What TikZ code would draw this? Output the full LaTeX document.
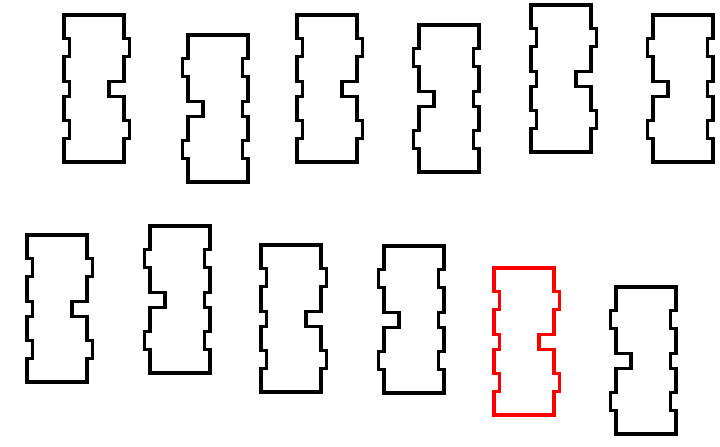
\documentclass[tikz,border=0pt]{standalone}
\usepackage{tikz}
\definecolor{picked}{RGB}{255,0,0}

\begin{document}
\begin{tikzpicture}[x=0.025cm,y=-0.025cm,
    outline/.style={draw,line width=2.2pt,line join=miter},
    brick/.pic={\draw[outline] (0,0) -- (60,0) -- (60,23.5) -- (65.5,23.5) -- (65.5,41.5) -- (60,41.5)
      -- (60,66.5) -- (45,66.5) -- (45,81.5) -- (60,81.5) -- (60,105.5) -- (65.5,105.5) -- (65.5,123.5)
      -- (60,123.5) -- (60,147) -- (0,147) -- (0,123.5) -- (5.5,123.5) -- (5.5,105.5) -- (0,105.5)
      -- (0,81.5) -- (5.5,81.5) -- (5.5,66.5) -- (0,66.5) -- (0,41.5) -- (5.5,41.5) -- (5.5,23.5)
      -- (0,23.5) -- cycle;}]
  \useasboundingbox (0,0) rectangle (720,446);
  % notch on the right
  \foreach \px/\py [count=\i] in {64/15,297/15,531/5,27/235,261/245}
    \pic (ra\i) at (\px,\py) {brick};
  \pic[color=picked] (sel) at (494,268) {brick};
  % mirrored, notch on the left
  \foreach \px/\py [count=\i] in {248/35,479/25,713/15,210/226,444/246,676/287}
    \pic[xscale=-1] (lb\i) at (\px,\py) {brick};
\end{tikzpicture}
\end{document}
